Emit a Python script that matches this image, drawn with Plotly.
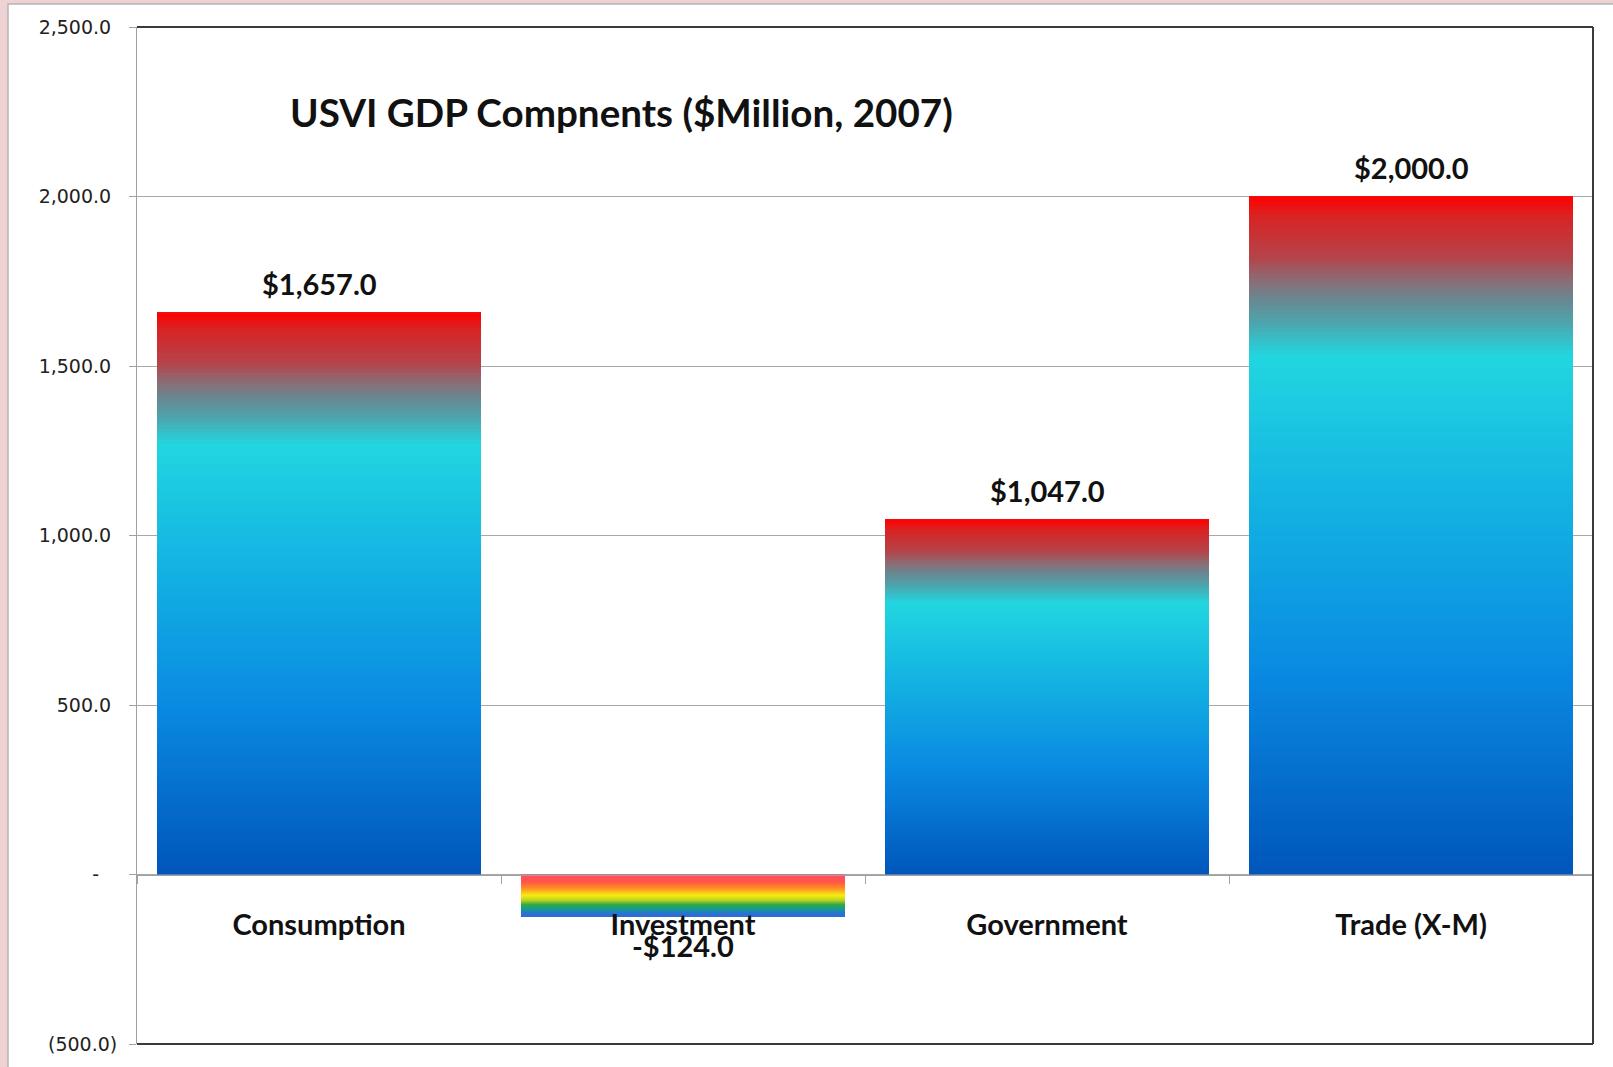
import plotly.graph_objects as go

# ---- data ----
categories = ["Consumption", "Investment", "Government", "Trade (X-M)"]
values = [1657.0, -124.0, 1047.0, 2000.0]
y_tickvals = [-500, 0, 500, 1000, 1500, 2000, 2500]
NB = "\u00a0"
y_ticktext = ["(500.0)", "-" + NB * 3, "500.0" + NB, "1,000.0" + NB, "1,500.0" + NB,
              "2,000.0" + NB, "2,500.0" + NB]
title_text = "USVI GDP Compnents ($Million, 2007)"

# ---- style ----
W, H = 1613, 1067
ML, MR, MT, MB = 137, 20, 27, 19
YMIN, YMAX = -500, 2500
PW, PH = W - ML - MR, H - MT - MB

pos_stops = [(0.00, "#0056bb"), (0.30, "#0a8ae2"), (0.55, "#13b3e2"), (0.765, "#22d6e0"),
             (0.81, "#4aa8b0"), (0.85, "#6a8690"), (0.875, "#8a6e76"), (0.91, "#b4444a"),
             (0.97, "#d82424"), (1.00, "#ff0000")]
neg_stops = [(0.00, "#ff4d6a"), (0.18, "#ff5848"), (0.32, "#ff8a28"), (0.50, "#f6ee10"),
             (0.62, "#b8d020"), (0.72, "#30a848"), (0.82, "#14a088"), (0.90, "#2878d0"),
             (1.00, "#2a6fd0")]


def _hex(c):
    c = c.lstrip("#")
    return [int(c[i:i + 2], 16) for i in (0, 2, 4)]


def interp(stops, t):
    for (t0, c0), (t1, c1) in zip(stops[:-1], stops[1:]):
        if t <= t1:
            f = 0 if t1 == t0 else (t - t0) / (t1 - t0)
            a, b = _hex(c0), _hex(c1)
            return "rgb(%d,%d,%d)" % tuple(round(a[i] + (b[i] - a[i]) * f) for i in range(3))
    return stops[-1][1]


# each bar is painted as overlapping layers (base rising, top fixed at the value)
N = 150
xs, ys, bases, cols = [], [], [], []
for cat, v in zip(categories, values):
    stops = pos_stops if v >= 0 else neg_stops
    for k in range(N):
        xs.append(cat)
        bases.append(v * k / N)
        ys.append(v * (N - k) / N)
        cols.append(interp(stops, (k + 0.5) / N))

fig = go.Figure()
fig.add_trace(go.Bar(x=xs, y=ys, base=bases, width=0.89,
                     marker=dict(color=cols, line=dict(width=0)),
                     hoverinfo="skip", showlegend=False))

lbl_font = dict(family="Lato", size=29, color="#111111", weight="bold")
for cat, v in zip(categories, values):
    txt = ("-$%s" % format(abs(v), ",.1f")) if v < 0 else ("$%s" % format(v, ",.1f"))
    fig.add_annotation(x=cat, y=v, text=txt, showarrow=False, font=lbl_font,
                       yanchor="bottom" if v >= 0 else "top",
                       yshift=10 if v >= 0 else -9)


def px_x(px):
    return (px - ML) / PW


def px_y(py):
    return (H - MB - py) / PH


shapes = [
    dict(type="rect", xref="paper", yref="paper", x0=px_x(8), x1=px_x(W + 10),
         y0=px_y(H + 10), y1=px_y(4), fillcolor="white",
         line=dict(color="#b5b5b5", width=1.5), layer="below"),
    dict(type="line", xref="paper", yref="paper", x0=0, x1=1, y0=1, y1=1,
         line=dict(color="#3a3a3a", width=2)),
    dict(type="line", xref="paper", yref="paper", x0=1, x1=1, y0=0, y1=1,
         line=dict(color="#3a3a3a", width=2)),
    dict(type="line", xref="paper", yref="paper", x0=0, x1=1, y0=0, y1=0,
         line=dict(color="#3a3a3a", width=2)),
]

fig.update_layout(
    width=W, height=H,
    margin=dict(l=ML, r=MR, t=MT, b=MB, pad=0),
    paper_bgcolor="#efd3d4", plot_bgcolor="white",
    barmode="overlay", bargap=0.11,
    shapes=shapes,
    title=dict(text=title_text, x=290 / W, xanchor="left", y=1 - 113 / H, yanchor="middle",
               xref="container", yref="container",
               font=dict(family="Lato", size=38.6, color="#111111", weight="bold")),
    xaxis=dict(type="category", categoryorder="array", categoryarray=categories,
               anchor="free", position=(0 - YMIN) / (YMAX - YMIN),
               showline=True, linecolor="#a0a0a0", linewidth=1,
               ticks="outside", tickson="boundaries", ticklen=8, tickcolor="#a0a0a0",
               showgrid=False, zeroline=False, ticklabelstandoff=25,
               tickfont=dict(family="Lato", size=29, color="#111111", weight="bold")),
    yaxis=dict(range=[YMIN, YMAX], tickvals=y_tickvals, ticktext=y_ticktext,
               showgrid=True, gridcolor="#a8a8a8", gridwidth=1, zeroline=False,
               showline=True, linecolor="#a0a0a0", linewidth=1,
               ticks="outside", ticklen=7, tickcolor="#a0a0a0", ticklabelstandoff=8,
               tickfont=dict(family="DejaVu Sans", size=19, color="#222222")),
)

fig.write_html("out.html", config={"displayModeBar": False},
               post_script="document.body.style.margin='0';document.body.style.padding='0';")
